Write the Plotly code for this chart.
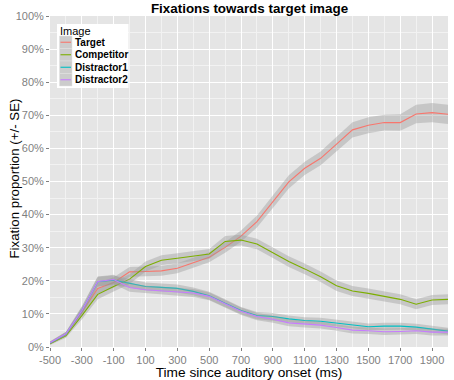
import plotly.graph_objects as go

# ---------------- data ----------------
time_ms = [-500, -400, -300, -200, -100, 0, 100, 200, 300, 400, 500, 600, 700,
           800, 900, 1000, 1100, 1200, 1300, 1400, 1500, 1600, 1700, 1800, 1900, 2000]

series_names = ["Target", "Competitor", "Distractor1", "Distractor2"]

target = [1.2, 3.9, 10.5, 17.7, 19.5, 22.7, 22.8, 23.0, 23.8, 25.4, 27.1, 30.1, 33.5,
          37.9, 43.9, 49.9, 54.0, 57.0, 61.3, 65.6, 67.0, 67.8, 67.8, 70.4, 70.8, 70.3]
competitor = [1.0, 3.4, 9.5, 15.9, 18.3, 20.5, 24.3, 26.2, 26.8, 27.4, 28.1, 31.9, 32.3,
              31.1, 28.5, 25.8, 23.6, 21.2, 18.5, 16.9, 16.2, 15.2, 14.4, 12.9, 14.2, 14.4]
distractor1 = [1.2, 3.9, 11.0, 19.7, 20.2, 19.3, 18.3, 18.0, 17.7, 16.8, 15.5, 13.2, 11.0,
               9.5, 9.2, 8.5, 8.0, 7.8, 7.2, 6.7, 6.1, 6.3, 6.3, 6.0, 5.4, 4.8]
distractor2 = [1.3, 4.0, 11.0, 19.8, 20.4, 18.0, 17.3, 17.0, 16.7, 16.3, 15.3, 13.0, 10.8,
               9.2, 8.4, 7.3, 6.9, 6.6, 5.9, 5.1, 4.9, 4.6, 4.7, 4.9, 4.5, 4.5]

target_se = [0.4, 0.6, 1.2, 1.6, 1.6, 1.5, 1.5, 1.5, 1.5, 1.5, 1.5, 1.6, 1.7,
             1.8, 1.9, 2.0, 2.0, 2.1, 2.2, 2.3, 2.4, 2.4, 2.5, 2.8, 2.9, 2.9]
competitor_se = [0.4, 0.6, 1.2, 1.5, 1.5, 1.5, 1.5, 1.5, 1.5, 1.5, 1.5, 1.6, 1.6,
                 1.6, 1.6, 1.6, 1.6, 1.6, 1.6, 1.5, 1.5, 1.5, 1.5, 1.5, 1.5, 1.5]
distractor1_se = [0.4, 0.6, 1.2, 1.5, 1.4, 1.3, 1.2, 1.2, 1.2, 1.2, 1.2, 1.2, 1.1,
                  1.1, 1.1, 1.0, 1.0, 1.0, 1.0, 1.0, 1.0, 1.0, 1.0, 1.0, 1.0, 1.0]
distractor2_se = [0.4, 0.6, 1.2, 1.5, 1.4, 1.3, 1.2, 1.2, 1.2, 1.2, 1.2, 1.2, 1.1,
                  1.1, 1.1, 1.0, 1.0, 1.0, 1.0, 1.0, 1.0, 1.0, 1.0, 1.0, 1.0, 1.0]

x_tick_vals = [-500, -300, -100, 100, 300, 500, 700, 900, 1100, 1300, 1500, 1700, 1900]
x_tick_text = ["-500", "-300", "-100", "100", "300", "500", "700", "900",
               "1100", "1300", "1500", "1700", "1900"]
y_tick_vals = [0, 10, 20, 30, 40, 50, 60, 70, 80, 90, 100]
y_tick_text = ["0%", "10%", "20%", "30%", "40%", "50%", "60%", "70%", "80%", "90%", "100%"]

means = [target, competitor, distractor1, distractor2]
ses = [target_se, competitor_se, distractor1_se, distractor2_se]
colors = ["#F8766D", "#7CAE00", "#00BFC4", "#C77CFF"]

# ---------------- figure ----------------
W, H = 454, 380
ML, MR, MT, MB = 50, 6, 16, 33
PW, PH = W - ML - MR, H - MT - MB

fig = go.Figure()
for name, m, s, c in zip(series_names, means, ses, colors):
    upper = [a + b for a, b in zip(m, s)]
    lower = [a - b for a, b in zip(m, s)]
    fig.add_trace(go.Scatter(
        x=time_ms + time_ms[::-1], y=upper + lower[::-1],
        fill="toself", fillcolor="rgba(153,153,153,0.4)",
        line=dict(width=0), mode="lines", hoverinfo="skip",
        showlegend=False, name=name + " SE"))
    fig.add_trace(go.Scatter(
        x=time_ms, y=m, mode="lines", name=name,
        line=dict(color=c, width=1.1), showlegend=False))


def px_x(p):
    return (p - ML) / PW


def px_y(p):
    return (H - MB - p) / PH


shapes = []
annotations = []
# y-axis title
annotations.append(dict(text="Fixation proportion (+/- SE)", xref="paper", yref="paper",
                        x=px_x(13.5), y=px_y(179), xanchor="center", yanchor="middle",
                        textangle=-90, showarrow=False,
                        font=dict(size=13.3, color="black")))
# legend box
shapes.append(dict(type="rect", xref="paper", yref="paper",
                   x0=px_x(57), x1=px_x(128.5), y0=px_y(88), y1=px_y(24),
                   fillcolor="white", line=dict(width=0), layer="above"))
annotations.append(dict(text="Image", xref="paper", yref="paper",
                        x=px_x(57.5), y=px_y(30.5), xanchor="left", yanchor="middle",
                        showarrow=False, font=dict(size=11, color="black")))
key_h = 12.5
key_top = 36
for i, (name, c) in enumerate(zip(series_names, colors)):
    t = key_top + i * key_h
    shapes.append(dict(type="rect", xref="paper", yref="paper",
                       x0=px_x(59.5), x1=px_x(72), y0=px_y(t + key_h), y1=px_y(t),
                       fillcolor="#CCCCCC", line=dict(color="#E0E0E0", width=0.5),
                       layer="above"))
    yc = t + key_h / 2
    shapes.append(dict(type="line", xref="paper", yref="paper",
                       x0=px_x(60.5), x1=px_x(71), y0=px_y(yc), y1=px_y(yc),
                       line=dict(color=c, width=1.1), layer="above"))
    annotations.append(dict(text="<b>" + name + "</b>", xref="paper", yref="paper",
                            x=px_x(72.5), y=px_y(yc), xanchor="left", yanchor="middle",
                            showarrow=False, font=dict(size=10, color="black")))

fig.update_layout(
    width=W, height=H,
    margin=dict(l=ML, r=MR, t=MT, b=MB, autoexpand=False),
    paper_bgcolor="white", plot_bgcolor="#E5E5E5",
    font=dict(family="Liberation Sans, Arial, sans-serif"),
    title=dict(text="<b>Fixations towards target image</b>",
               x=px_x(249.5), xref="paper", y=1 - 8.5 / H, yref="container",
               xanchor="center", yanchor="middle",
               font=dict(size=13.4, color="black")),
    shapes=shapes, annotations=annotations, showlegend=False,
)
fig.update_xaxes(
    range=[-500, 2000], tickvals=x_tick_vals, ticktext=x_tick_text, automargin=False,
    ticks="outside", ticklen=3, tickcolor="#7F7F7F", tickwidth=1,
    tickfont=dict(size=11, color="#7F7F7F"),
    showgrid=True, gridcolor="white", gridwidth=1,
    minor=dict(dtick=100, tick0=-500, showgrid=True, gridcolor="#F2F2F2", gridwidth=0.6, ticks=""),
    zeroline=False, showline=False,
    title=dict(text="Time since auditory onset (ms)", font=dict(size=13.7, color="black"), standoff=0),
)
fig.update_yaxes(
    range=[0, 100], tickvals=y_tick_vals, ticktext=y_tick_text, automargin=False,
    ticks="outside", ticklen=3, tickcolor="#7F7F7F", tickwidth=1,
    tickfont=dict(size=11, color="#7F7F7F"),
    showgrid=True, gridcolor="white", gridwidth=1,
    minor=dict(dtick=5, tick0=0, showgrid=True, gridcolor="#F2F2F2", gridwidth=0.6, ticks=""),
    zeroline=False, showline=False,
)

fig.write_html("out.html", config={"displayModeBar": False},
               post_script="document.body.style.margin='0';")
